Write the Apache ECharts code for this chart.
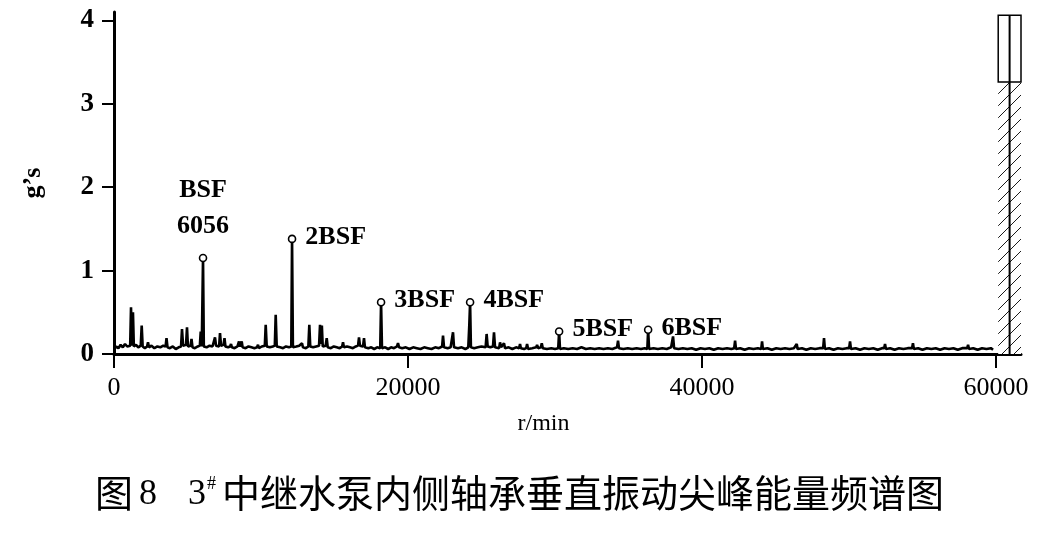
<!DOCTYPE html>
<html>
<head>
<meta charset="utf-8">
<script src="https://cdn.jsdelivr.net/npm/echarts@6/dist/echarts.min.js"></script>
<style>
html,body{margin:0;padding:0;background:#fff;}
#chart{width:1060px;height:533px;}
</style>
</head>
<body>
<div id="chart"></div>
<script>
// ---- data ----
const xTickValues = [0, 20000, 40000, 60000];
const yTickValues = [0, 1, 2, 3, 4];

// spectrum [r/min, g's]
const spectrum = [
[0,0.05],[150,0.09],[300,0.07],[450,0.11],[600,0.08],[750,0.12],[900,0.09],[1100,0.10],[1157,0.56],[1220,0.10],[1290,0.50],[1350,0.09],[1500,0.11],[1650,0.08],[1820,0.10],[1884,0.34],[1950,0.09],[2100,0.07],[2250,0.09],[2313,0.14],[2380,0.08],[2550,0.10],[2750,0.07],[2950,0.09],[3150,0.08],[3350,0.10],[3510,0.09],[3572,0.19],[3640,0.08],[3800,0.07],[4000,0.09],[4200,0.06],[4400,0.08],[4560,0.09],[4626,0.30],[4700,0.10],[4900,0.11],[4966,0.32],[5030,0.09],[5210,0.10],[5272,0.18],[5340,0.08],[5500,0.07],[5700,0.09],[5840,0.10],[5900,0.27],[5970,0.09],[6000,0.10],[6056,1.15],[6110,0.09],[6300,0.08],[6500,0.10],[6700,0.09],[6810,0.10],[6871,0.20],[6940,0.10],[7150,0.09],[7211,0.25],[7280,0.10],[7450,0.11],[7517,0.19],[7580,0.09],[7760,0.08],[7900,0.09],[7960,0.12],[8020,0.08],[8200,0.07],[8400,0.09],[8504,0.15],[8570,0.09],[8630,0.10],[8688,0.15],[8750,0.08],[8950,0.07],[9150,0.09],[9350,0.08],[9550,0.07],[9730,0.08],[9796,0.11],[9860,0.07],[10050,0.09],[10260,0.10],[10320,0.35],[10390,0.09],[10600,0.08],[10800,0.09],[10940,0.10],[11000,0.47],[11070,0.09],[11300,0.08],[11500,0.07],[11700,0.09],[11900,0.08],[12060,0.09],[12112,1.38],[12170,0.08],[12400,0.09],[12600,0.10],[12730,0.09],[12790,0.13],[12850,0.08],[13050,0.07],[13220,0.09],[13287,0.35],[13350,0.09],[13550,0.08],[13750,0.09],[13950,0.10],[14015,0.35],[14080,0.12],[14140,0.34],[14200,0.09],[14400,0.10],[14470,0.19],[14540,0.08],[14750,0.07],[14950,0.09],[15150,0.08],[15350,0.07],[15520,0.09],[15580,0.14],[15640,0.08],[15850,0.09],[16050,0.08],[16250,0.07],[16450,0.09],[16600,0.10],[16667,0.20],[16730,0.10],[16940,0.09],[17007,0.19],[17070,0.08],[17300,0.07],[17500,0.08],[17700,0.06],[17900,0.08],[18110,0.07],[18168,0.62],[18230,0.07],[18450,0.08],[18650,0.06],[18850,0.08],[19050,0.07],[19250,0.09],[19320,0.13],[19390,0.08],[19600,0.07],[19850,0.08],[20100,0.06],[20350,0.08],[20600,0.07],[20850,0.06],[21100,0.08],[21350,0.07],[21600,0.06],[21850,0.08],[22100,0.07],[22320,0.09],[22382,0.22],[22450,0.08],[22700,0.07],[22900,0.08],[23000,0.09],[23062,0.26],[23130,0.08],[23400,0.07],[23650,0.08],[23900,0.06],[24100,0.08],[24170,0.35],[24224,0.62],[24280,0.08],[24500,0.07],[24750,0.08],[25000,0.09],[25280,0.08],[25348,0.24],[25420,0.09],[25600,0.08],[25780,0.09],[25850,0.26],[25920,0.08],[26200,0.07],[26260,0.14],[26330,0.08],[26460,0.07],[26530,0.13],[26600,0.07],[26850,0.08],[27100,0.06],[27350,0.08],[27560,0.07],[27620,0.12],[27680,0.07],[27900,0.06],[28040,0.07],[28100,0.12],[28170,0.06],[28450,0.07],[28720,0.08],[28780,0.11],[28850,0.07],[29040,0.08],[29100,0.13],[29170,0.07],[29450,0.06],[29750,0.07],[30000,0.06],[30220,0.07],[30280,0.27],[30340,0.06],[30600,0.07],[30900,0.06],[31200,0.07],[31500,0.06],[31800,0.08],[32100,0.06],[32400,0.07],[32700,0.06],[33000,0.07],[33300,0.06],[33600,0.07],[33900,0.06],[34220,0.08],[34287,0.16],[34350,0.07],[34650,0.06],[34950,0.07],[35250,0.06],[35550,0.07],[35850,0.06],[36100,0.07],[36280,0.06],[36336,0.29],[36400,0.06],[36700,0.07],[37000,0.06],[37300,0.07],[37600,0.06],[37900,0.08],[37970,0.10],[38030,0.21],[38100,0.07],[38400,0.06],[38700,0.07],[39000,0.06],[39300,0.07],[39600,0.05],[39900,0.07],[40200,0.06],[40500,0.07],[40800,0.05],[41100,0.07],[41400,0.06],[41700,0.07],[42000,0.06],[42190,0.07],[42250,0.16],[42310,0.06],[42600,0.07],[42900,0.05],[43200,0.07],[43500,0.06],[43800,0.07],[44030,0.06],[44085,0.15],[44140,0.06],[44450,0.07],[44750,0.05],[45050,0.07],[45350,0.06],[45650,0.07],[45950,0.06],[46250,0.07],[46385,0.07],[46445,0.12],[46500,0.06],[46800,0.07],[47100,0.05],[47400,0.07],[47700,0.06],[48000,0.07],[48240,0.07],[48300,0.19],[48360,0.06],[48650,0.07],[48950,0.05],[49250,0.07],[49550,0.06],[49850,0.07],[50010,0.07],[50070,0.15],[50130,0.06],[50450,0.07],[50750,0.05],[51050,0.07],[51350,0.06],[51650,0.07],[51950,0.05],[52250,0.07],[52390,0.07],[52450,0.12],[52510,0.06],[52800,0.07],[53100,0.05],[53400,0.07],[53700,0.06],[54000,0.07],[54290,0.07],[54350,0.13],[54410,0.06],[54700,0.07],[55000,0.05],[55300,0.07],[55600,0.06],[55900,0.07],[56200,0.05],[56500,0.07],[56800,0.06],[57100,0.07],[57400,0.05],[57700,0.07],[58040,0.07],[58100,0.11],[58160,0.06],[58450,0.07],[58750,0.05],[59050,0.07],[59350,0.06],[59650,0.07],[59800,0.05]
];

// marked bearing-frequency peaks
const peakNames = ['BSF\n6056', '2BSF', '3BSF', '4BSF', '5BSF', '6BSF'];
const peakRpm = [6056, 12112, 18168, 24224, 30280, 36336];
const peakAmp = [1.15, 1.38, 0.62, 0.62, 0.27, 0.29];

// overall level indicator at the right end: [x start, x end, x centre], [hatched top, box top]
const overallX = [60150, 61700, 60925];
const overallLevels = [3.26, 4.06];

const captionMain = '中继水泵内侧轴承垂直振动尖峰能量频谱图';

// ---- chart ----
const serif = '"Liberation Serif", "Times New Roman", serif';

const hatch = document.createElement('canvas');
hatch.width = 12; hatch.height = 12;
(function(){
  const c = hatch.getContext('2d');
  c.fillStyle = '#fff'; c.fillRect(0,0,12,12);
  c.strokeStyle = '#000'; c.lineWidth = 0.9;
  c.beginPath();
  c.moveTo(-1,13); c.lineTo(13,-1);
  c.moveTo(-1,1); c.lineTo(1,-1);
  c.moveTo(11,13); c.lineTo(13,11);
  c.stroke();
})();

const peakData = peakRpm.map((x, i) => {
  const d = { name: peakNames[i], value: [x, peakAmp[i]] };
  if (i === 0) {
    d.label = { position: 'top', distance: 9, align: 'center', offset: [0, 0] };
  }
  return d;
});

const chart = echarts.init(document.getElementById('chart'), null, { renderer: 'canvas' });
chart.setOption({
  animation: false,
  backgroundColor: '#fff',
  grid: { left: 114, right: 39, top: 12, bottom: 179, containLabel: false },
  xAxis: {
    type: 'value', min: 0, max: 61700, interval: 20000,
    name: 'r/min', nameLocation: 'middle', nameGap: 58,
    nameTextStyle: { fontFamily: serif, fontSize: 24, color: '#000', padding: [0, 48, 0, 0] },
    axisLine: { onZero: false, lineStyle: { color: '#000', width: 3 } },
    axisTick: { show: true, inside: false, length: 14, lineStyle: { color: '#000', width: 2 }, customValues: xTickValues },
    axisLabel: { color: '#000', fontFamily: serif, fontSize: 26, margin: 21, customValues: xTickValues, formatter: v => String(v) },
    splitLine: { show: false }
  },
  yAxis: {
    type: 'value', min: 0, max: 4.1, interval: 1,
    name: 'g’s', nameLocation: 'middle', nameGap: 68, nameRotate: 90,
    nameTextStyle: { fontFamily: serif, fontSize: 26, fontWeight: 'bold', color: '#000' },
    axisLine: { lineStyle: { color: '#000', width: 3 } },
    axisTick: { show: true, inside: false, length: 12, lineStyle: { color: '#000', width: 2 }, customValues: yTickValues },
    axisLabel: { color: '#000', fontFamily: serif, fontSize: 27, fontWeight: 'bold', margin: 20, customValues: yTickValues, formatter: v => String(v) },
    splitLine: { show: false }
  },
  series: [
    {
      type: 'line', name: 'spectrum', data: spectrum, showSymbol: false, symbol: 'none',
      lineStyle: { color: '#000', width: 2.6 }, z: 2, clip: false
    },
    {
      type: 'custom', name: 'overall', z: 3, clip: false,
      data: [[overallX[0], overallX[1], overallLevels[0], overallLevels[1], overallX[2]]],
      encode: { x: [0, 1, 4], y: [2, 3] },
      renderItem: function (params, api) {
        const x0 = api.value(0), x1 = api.value(1), yh = api.value(2), yt = api.value(3), xc = api.value(4);
        const pBase0 = api.coord([x0, 0]);
        const pHatch1 = api.coord([x1, yh]);
        const pTop = api.coord([x0, yt]);
        const pc = api.coord([xc, 0]);
        const w = pHatch1[0] - pBase0[0];
        return {
          type: 'group',
          children: [
            { type: 'rect', shape: { x: pBase0[0], y: pHatch1[1], width: w, height: pBase0[1] - pHatch1[1] },
              style: { fill: { image: hatch, repeat: 'repeat' }, stroke: null } },
            { type: 'rect', shape: { x: pBase0[0], y: pTop[1], width: w, height: pHatch1[1] - pTop[1] },
              style: { fill: '#fff', stroke: '#000', lineWidth: 1.5 } },
            { type: 'line', shape: { x1: pc[0], y1: pTop[1], x2: pc[0], y2: pBase0[1] },
              style: { stroke: '#000', lineWidth: 2 } }
          ]
        };
      }
    },
    {
      type: 'scatter', name: 'peaks', data: peakData, z: 4,
      symbol: 'circle', symbolSize: 7,
      itemStyle: { color: '#fff', borderColor: '#000', borderWidth: 1.6, opacity: 1 },
      label: {
        show: true, position: 'right', distance: 9, offset: [0, -2],
        formatter: p => p.name,
        fontFamily: serif, fontWeight: 'bold', fontSize: 26, color: '#000', lineHeight: 36
      }
    }
  ],
  graphic: [
    { type: 'text', x: 95, y: 493, style: { text: '图', font: '38px "Noto Sans CJK SC"', fill: '#000', textVerticalAlign: 'middle' } },
    { type: 'text', x: 139, y: 495, style: { text: '8', font: '36px ' + serif, fill: '#000', textVerticalAlign: 'middle' } },
    { type: 'text', x: 188, y: 495, style: { text: '3', font: '36px ' + serif, fill: '#000', textVerticalAlign: 'middle' } },
    { type: 'text', x: 207, y: 484, style: { text: '#', font: '18px ' + serif, fill: '#000', textVerticalAlign: 'middle' } },
    { type: 'text', x: 222, y: 493, style: { text: captionMain, font: '38px "Noto Sans CJK SC"', fill: '#000', textVerticalAlign: 'middle' } }
  ]
});
</script>
</body>
</html>
